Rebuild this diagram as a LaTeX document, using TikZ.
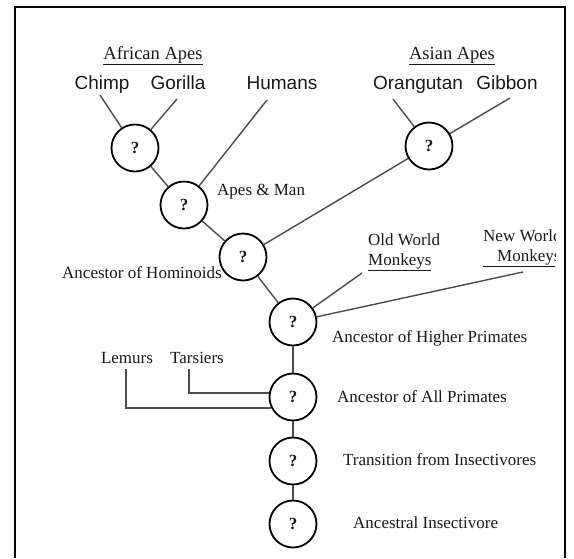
\documentclass[tikz,border=0pt]{standalone}
\usepackage{fontspec}
\setmainfont{Liberation Serif}
\newfontfamily\taxsans{Liberation Sans}
\usepackage{tikz}

\tikzset{
  anc/.style={draw=black, circle, line width=1.8pt, minimum size=47pt, inner sep=0pt,
    font=\fontsize{17}{20}\selectfont\bfseries, text=black!90},
  branch/.style={draw=black!70, line width=1.4pt},
  taxon/.style={font=\fontsize{19}{22}\selectfont\taxsans, text=black!90, inner sep=0pt, anchor=base},
  group/.style={font=\fontsize{18.5}{22}\selectfont, text=black!90, inner sep=0pt, anchor=base},
  note/.style={font=\fontsize{17}{20}\selectfont, text=black!90, inner sep=0pt, align=left},
}

\begin{document}
\begin{tikzpicture}[x=1pt,y=-1pt]
\path[fill=white,use as bounding box] (0,0) rectangle (574,558);

% frame:
\draw[black, line width=2.4pt] (15,558) -- (15,7) -- (565,7) -- (565,558);

% ancestors:
\node[anc] (afr) at (135,148) {?};
\node[anc] (apesman) at (184,205) {?};
\node[anc] (homin) at (243,257) {?};
\node[anc] (asia) at (429,146) {?};
\node[anc] (higher) at (293,322) {?};
\node[anc] (allprim) at (293,397) {?};
\node[anc] (trans) at (293,461) {?};
\node[anc] (insect) at (293,524) {?};

% living groups:
\node[group] (afrapes) at (153,59) {\underline{African Apes}};
\node[group] (asiaapes) at (452,59) {\underline{Asian Apes}};
\node[taxon] (chimp) at (102,89) {Chimp};
\node[taxon] (gorilla) at (178,89) {Gorilla};
\node[taxon] (humans) at (282,89) {Humans};
\node[taxon] (orang) at (418,89) {Orangutan};
\node[taxon] (gibbon) at (507,89) {Gibbon};
\node[note] (oldworld) [anchor=west] at (368,252) {Old World\\\underline{Monkeys}};
\begin{scope}
\clip (0,0) rectangle (555,558);
\node[note] (newworld) [anchor=west] at (483,248) {New World\\\underline{\hspace{14pt}Monkeys}};
\end{scope}
\node[note] (lemurs) [anchor=base] at (127,363.5) {Lemurs};
\node[note] (tarsiers) [anchor=base] at (197,363.5) {Tarsiers};

% ancestor labels:
\node[note] (lapesman) [anchor=base west] at (217,195.5) {Apes \& Man};
\node[note] (lhomin) [anchor=base west] at (62,278.5) {Ancestor of Hominoids};
\node[note] (lhigher) [anchor=base west] at (332,342.5) {Ancestor of Higher Primates};
\node[note] (lallprim) [anchor=base west] at (337,402.5) {Ancestor of All Primates};
\node[note] (ltrans) [anchor=base west] at (343,465.5) {Transition from Insectivores};
\node[note] (linsect) [anchor=base west] at (353,528.5) {Ancestral Insectivore};

% branch ends:
\coordinate (chimpend) at (100,95);
\coordinate (gorillaend) at (177,99);
\coordinate (humansend) at (267,100);
\coordinate (orangend) at (393,99);
\coordinate (gibbonend) at (510,98);
\coordinate (oldend) at (362,273);
\coordinate (newend) at (523,272);
\coordinate (lemurend) at (126,369);
\coordinate (tarsend) at (189,369);

% branches:
\draw[branch] (chimpend) -- (afr);
\draw[branch] (gorillaend) -- (afr);
\draw[branch] (afr) -- (apesman);
\draw[branch] (humansend) -- (apesman);
\draw[branch] (apesman) -- (homin);
\draw[branch] (orangend) -- (asia);
\draw[branch] (gibbonend) -- (asia);
\draw[branch] (homin) -- (asia);
\draw[branch] (homin) -- (higher);
\draw[branch] (oldend) -- (higher);
\draw[branch] (newend) -- (higher);
\draw[branch] (higher) -- (allprim);
\draw[branch] (allprim) -- (trans);
\draw[branch] (trans) -- (insect);
\draw[branch] (lemurend) |- (allprim.207);
\draw[branch] (tarsend) |- (allprim.171);

\end{tikzpicture}
\end{document}
